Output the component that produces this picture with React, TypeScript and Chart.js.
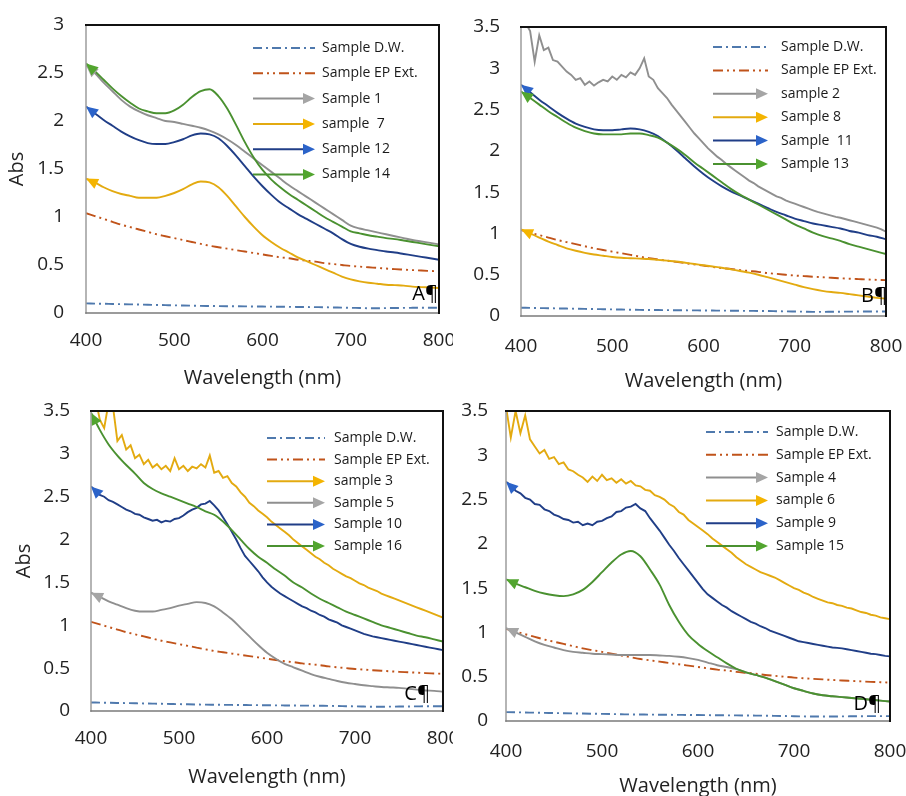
import React, { useEffect, useRef } from "react";
import { Chart, registerables } from "chart.js";
Chart.register(...registerables);

// ---------- wavelength grids (nm) ----------
const WL10 = [
  400, 410, 420, 430, 440, 450, 460, 470, 480, 490,
  500, 510, 520, 530, 540, 550, 560, 570, 580, 590,
  600, 610, 620, 630, 640, 650, 660, 670, 680, 690,
  700, 710, 720, 730, 740, 750, 760, 770, 780, 790,
  800,
];
const WL5 = [
  400, 405, 410, 415, 420, 425, 430, 435, 440, 445,
  450, 455, 460, 465, 470, 475, 480, 485, 490, 495,
  500, 505, 510, 515, 520, 525, 530, 535, 540, 545,
  550, 555, 560, 565, 570, 575, 580, 585, 590, 595,
  600, 605, 610, 615, 620, 625, 630, 635, 640, 645,
  650, 655, 660, 665, 670, 675, 680, 685, 690, 695,
  700, 705, 710, 715, 720, 725, 730, 735, 740, 745,
  750, 755, 760, 765, 770, 775, 780, 785, 790, 795,
  800,
];

// ---------- shared controls ----------
const DW = [
  0.100, 0.098, 0.096, 0.094, 0.092, 0.090, 0.088, 0.086, 0.084, 0.082,
  0.080, 0.078, 0.076, 0.074, 0.073, 0.072, 0.071, 0.070, 0.069, 0.068,
  0.067, 0.066, 0.065, 0.064, 0.063, 0.062, 0.061, 0.060, 0.058, 0.056,
  0.054, 0.052, 0.050, 0.050, 0.051, 0.052, 0.053, 0.054, 0.055, 0.055,
  0.055,
];
const EP = [
  1.04, 1.01, 0.98, 0.95, 0.92, 0.895, 0.87, 0.845, 0.82, 0.80,
  0.78, 0.76, 0.74, 0.72, 0.70, 0.685, 0.67, 0.655, 0.64, 0.625,
  0.61, 0.595, 0.58, 0.57, 0.555, 0.545, 0.535, 0.52, 0.51, 0.50,
  0.49, 0.483, 0.476, 0.47, 0.463, 0.457, 0.452, 0.447, 0.442, 0.438,
  0.434,
];

// ---------- panel A ----------
const S1 = [
  2.58, 2.50, 2.40, 2.31, 2.22, 2.15, 2.10, 2.06, 2.03, 2.00,
  1.99, 1.97, 1.95, 1.93, 1.90, 1.86, 1.81, 1.75, 1.68, 1.61,
  1.54, 1.47, 1.40, 1.33, 1.27, 1.21, 1.15, 1.09, 1.03, 0.97,
  0.91, 0.88, 0.86, 0.84, 0.82, 0.80, 0.78, 0.76, 0.745, 0.73,
  0.715,
];
const S7 = [
  1.40, 1.36, 1.31, 1.27, 1.24, 1.22, 1.20, 1.20, 1.20, 1.22,
  1.25, 1.29, 1.34, 1.37, 1.36, 1.31, 1.22, 1.11, 1.00, 0.90,
  0.81, 0.74, 0.68, 0.63, 0.58, 0.54, 0.50, 0.46, 0.42, 0.38,
  0.35, 0.33, 0.315, 0.305, 0.295, 0.29, 0.285, 0.275, 0.27, 0.265,
  0.26,
];
const S12 = [
  2.15, 2.08, 2.01, 1.95, 1.89, 1.84, 1.80, 1.77, 1.76, 1.76,
  1.78, 1.81, 1.85, 1.87, 1.86, 1.82, 1.74, 1.64, 1.53, 1.42,
  1.32, 1.23, 1.15, 1.09, 1.03, 0.98, 0.93, 0.88, 0.83, 0.77,
  0.72, 0.69, 0.67, 0.655, 0.64, 0.63, 0.615, 0.60, 0.585, 0.57,
  0.555,
];
const S14 = [
  2.60, 2.52, 2.43, 2.34, 2.26, 2.19, 2.13, 2.10, 2.08, 2.08,
  2.11, 2.17, 2.25, 2.31, 2.33, 2.26, 2.13, 1.96, 1.78, 1.62,
  1.49, 1.39, 1.31, 1.24, 1.18, 1.12, 1.06, 1.00, 0.95, 0.90,
  0.85, 0.83, 0.81, 0.795, 0.78, 0.77, 0.755, 0.74, 0.725, 0.71,
  0.695,
];

// ---------- panel B ----------
const S2 = [
  3.65, 3.55, 3.45, 3.08, 3.40, 3.22, 3.25, 3.10, 3.08, 3.02,
  2.96, 2.92, 2.86, 2.88, 2.80, 2.84, 2.79, 2.83, 2.86, 2.84,
  2.90, 2.86, 2.92, 2.89, 2.95, 2.92, 3.00, 3.12, 2.90, 2.86,
  2.76, 2.70, 2.64, 2.56, 2.49, 2.42, 2.35, 2.28, 2.21, 2.15,
  2.09, 2.03, 1.98, 1.93, 1.89, 1.84, 1.80, 1.76, 1.72, 1.68,
  1.64, 1.61, 1.57, 1.54, 1.51, 1.48, 1.45, 1.43, 1.40, 1.38,
  1.36, 1.34, 1.32, 1.30, 1.28, 1.26, 1.245, 1.23, 1.215, 1.20,
  1.19, 1.175, 1.16, 1.145, 1.13, 1.115, 1.10, 1.085, 1.07, 1.05,
  1.02,
];
const S8 = [
  1.05, 1.00, 0.95, 0.90, 0.86, 0.82, 0.79, 0.765, 0.745, 0.73,
  0.715, 0.705, 0.70, 0.695, 0.69, 0.68, 0.67, 0.66, 0.645, 0.63,
  0.615, 0.60, 0.585, 0.565, 0.545, 0.525, 0.50, 0.47, 0.44, 0.41,
  0.38, 0.35, 0.325, 0.305, 0.29, 0.28, 0.265, 0.25, 0.235, 0.22,
  0.21,
];
const S11 = [
  2.80, 2.71, 2.62, 2.54, 2.46, 2.39, 2.33, 2.29, 2.26, 2.25,
  2.25, 2.26, 2.27, 2.26, 2.23, 2.18, 2.10, 2.01, 1.91, 1.81,
  1.72, 1.64, 1.57, 1.51, 1.46, 1.41, 1.36, 1.31, 1.26, 1.22,
  1.18, 1.15, 1.12, 1.10, 1.08, 1.06, 1.03, 1.01, 0.98, 0.96,
  0.93,
];
const S13 = [
  2.72, 2.64, 2.56, 2.48, 2.41, 2.34, 2.28, 2.24, 2.21, 2.20,
  2.20, 2.20, 2.21, 2.21, 2.19, 2.16, 2.10, 2.03, 1.95, 1.86,
  1.78, 1.70, 1.62, 1.54, 1.47, 1.41, 1.35, 1.29, 1.23, 1.17,
  1.11, 1.06, 1.01, 0.97, 0.94, 0.91, 0.87, 0.84, 0.81, 0.78,
  0.75,
];

// ---------- panel C ----------
const S3 = [
  3.70, 3.65, 3.40, 3.30, 3.60, 3.55, 3.15, 3.22, 3.05, 3.10,
  2.95, 2.99, 2.88, 2.93, 2.84, 2.88, 2.82, 2.86, 2.80, 2.95,
  2.82, 2.86, 2.80, 2.85, 2.83, 2.88, 2.84, 2.98, 2.78, 2.80,
  2.72, 2.74, 2.66, 2.62, 2.55, 2.50, 2.43, 2.39, 2.34, 2.30,
  2.26, 2.21, 2.17, 2.13, 2.09, 2.05, 2.00, 1.96, 1.92, 1.88,
  1.84, 1.80, 1.77, 1.73, 1.70, 1.66, 1.63, 1.60, 1.57, 1.55,
  1.52, 1.49, 1.47, 1.44, 1.42, 1.40, 1.37, 1.35, 1.33, 1.31,
  1.29, 1.27, 1.25, 1.23, 1.21, 1.19, 1.17, 1.15, 1.13, 1.11,
  1.09,
];
const S5 = [
  1.38, 1.33, 1.28, 1.24, 1.20, 1.17, 1.16, 1.16, 1.18, 1.20,
  1.23, 1.25, 1.27, 1.26, 1.22, 1.15, 1.07, 0.97, 0.87, 0.77,
  0.68, 0.61, 0.55, 0.51, 0.47, 0.43, 0.40, 0.375, 0.35, 0.33,
  0.315, 0.30, 0.29, 0.28, 0.275, 0.27, 0.26, 0.25, 0.24, 0.235,
  0.225,
];
const S10 = [
  2.62, 2.57, 2.52, 2.50, 2.46, 2.44, 2.41, 2.38, 2.35, 2.33,
  2.30, 2.29, 2.26, 2.24, 2.22, 2.23, 2.20, 2.22, 2.21, 2.24,
  2.25, 2.28, 2.32, 2.35, 2.37, 2.41, 2.42, 2.45, 2.40, 2.34,
  2.26, 2.18, 2.09, 2.00, 1.90, 1.81, 1.75, 1.69, 1.63, 1.56,
  1.50, 1.45, 1.41, 1.37, 1.34, 1.31, 1.28, 1.25, 1.22, 1.20,
  1.17, 1.15, 1.12, 1.10, 1.07, 1.05, 1.03, 1.00, 0.98, 0.96,
  0.94, 0.92, 0.90, 0.885, 0.87, 0.86, 0.85, 0.84, 0.83, 0.82,
  0.81, 0.80, 0.79, 0.78, 0.77, 0.76, 0.75, 0.74, 0.73, 0.72,
  0.71,
];
const S16 = [
  3.48, 3.28, 3.11, 2.98, 2.87, 2.77, 2.66, 2.59, 2.54, 2.50,
  2.46, 2.42, 2.38, 2.33, 2.29, 2.21, 2.11, 2.00, 1.89, 1.80,
  1.73, 1.65, 1.58, 1.50, 1.44, 1.37, 1.31, 1.26, 1.21, 1.16,
  1.12, 1.08, 1.04, 1.00, 0.97, 0.94, 0.91, 0.88, 0.86, 0.835,
  0.81,
];

// ---------- panel D ----------
const S4 = [
  1.05, 1.00, 0.95, 0.90, 0.86, 0.83, 0.80, 0.78, 0.77, 0.76,
  0.755, 0.75, 0.745, 0.745, 0.745, 0.745, 0.74, 0.735, 0.725, 0.71,
  0.69, 0.66, 0.63, 0.61, 0.585, 0.55, 0.52, 0.49, 0.45, 0.41,
  0.37, 0.34, 0.31, 0.29, 0.28, 0.27, 0.26, 0.25, 0.24, 0.23,
  0.22,
];
const S6 = [
  3.55, 3.20, 3.50, 3.25, 3.45, 3.18, 3.10, 3.02, 3.06, 2.96,
  2.98, 2.90, 2.92, 2.84, 2.82, 2.78, 2.75, 2.70, 2.76, 2.71,
  2.78, 2.72, 2.74, 2.69, 2.73, 2.68, 2.71, 2.66, 2.65, 2.61,
  2.60, 2.55, 2.53, 2.50, 2.45, 2.42, 2.36, 2.33, 2.27, 2.23,
  2.19, 2.15, 2.11, 2.06, 2.02, 1.98, 1.94, 1.90, 1.85, 1.81,
  1.77, 1.74, 1.71, 1.68, 1.66, 1.64, 1.62, 1.59, 1.56, 1.53,
  1.50, 1.48, 1.45, 1.43, 1.40, 1.38, 1.36, 1.34, 1.33, 1.31,
  1.30, 1.28, 1.27, 1.25, 1.23, 1.22, 1.20, 1.19, 1.17, 1.16,
  1.15,
];
const S9 = [
  2.70, 2.66, 2.60, 2.57, 2.52, 2.50, 2.45, 2.44, 2.39, 2.37,
  2.33, 2.31, 2.28, 2.27, 2.24, 2.25, 2.21, 2.23, 2.21, 2.25,
  2.26, 2.29, 2.31, 2.36, 2.37, 2.41, 2.42, 2.45, 2.40, 2.37,
  2.29, 2.22, 2.15, 2.07, 1.99, 1.92, 1.84, 1.77, 1.70, 1.63,
  1.56, 1.49, 1.43, 1.39, 1.35, 1.31, 1.28, 1.24, 1.21, 1.18,
  1.15, 1.12, 1.10, 1.07, 1.05, 1.02, 1.00, 0.98, 0.96, 0.94,
  0.92, 0.90, 0.89, 0.88, 0.87, 0.86, 0.85, 0.84, 0.83, 0.825,
  0.82, 0.81, 0.80, 0.79, 0.78, 0.77, 0.76, 0.755, 0.745, 0.735,
  0.73,
];
const S15 = [
  1.60, 1.55, 1.51, 1.47, 1.44, 1.42, 1.41, 1.43, 1.48, 1.57,
  1.68, 1.79, 1.88, 1.92, 1.86, 1.71, 1.54, 1.31, 1.12, 0.97,
  0.87, 0.79, 0.72, 0.65, 0.59, 0.55, 0.52, 0.49, 0.45, 0.41,
  0.37, 0.34, 0.31, 0.29, 0.28, 0.27, 0.26, 0.25, 0.24, 0.23,
  0.22,
];

const X_TICKS_MIN = 400;
const X_TICKS_MAX = 800;

// ---------- styles ----------
type Kind = "dw" | "ep" | "gray" | "yellow" | "blue" | "green";
const STYLE: Record<Kind, { line: string; head: string; dash: number[] }> = {
  dw: { line: "#4f79ad", head: "#4f79ad", dash: [9, 4, 2, 4] },
  ep: { line: "#c0531a", head: "#c0531a", dash: [10, 4, 2, 4, 2, 4] },
  gray: { line: "#8f8f8f", head: "#a5a5a5", dash: [] },
  yellow: { line: "#e3aa10", head: "#f4b400", dash: [] },
  blue: { line: "#203e87", head: "#2b63c9", dash: [] },
  green: { line: "#4a9130", head: "#52a52f", dash: [] },
};

interface SeriesDef { label: string; kind: Kind; xs: number[]; ys: number[]; noisy?: boolean }
interface PanelDef {
  key: string; left: number; top: number; w: number; h: number;
  area: { l: number; r: number; t: number; b: number };
  yMax: number; yTitle: boolean; yTitlePad: number; yTickPad: number;
  xTickPad: number; xTitlePad: number;
  legend: { x0: number; x1: number; tx: number; y0: number; dy: number };
  letter: { text: string; x: number; y: number };
  series: SeriesDef[];
}

const PANELS: PanelDef[] = [
  {
    key: "A", left: 0, top: 0, w: 453, h: 398,
    area: { l: 86, r: 439, t: 25, b: 313 },
    yMax: 3, yTitle: true, yTitlePad: 5, yTickPad: 22, xTickPad: 16, xTitlePad: 8,
    legend: { x0: 253, x1: 315, tx: 322, y0: 48, dy: 25.3 },
    letter: { text: "A¶", x: 438, y: 300 },
    series: [
      { label: "Sample D.W.", kind: "dw", xs: WL10, ys: DW },
      { label: "Sample EP Ext.", kind: "ep", xs: WL10, ys: EP },
      { label: "Sample 1", kind: "gray", xs: WL10, ys: S1 },
      { label: "sample  7", kind: "yellow", xs: WL10, ys: S7 },
      { label: "Sample 12", kind: "blue", xs: WL10, ys: S12 },
      { label: "Sample 14", kind: "green", xs: WL10, ys: S14 },
    ],
  },
  {
    key: "B", left: 453, top: 0, w: 453, h: 398,
    area: { l: 68, r: 433, t: 27, b: 316 },
    yMax: 3.5, yTitle: false, yTitlePad: 0, yTickPad: 21, xTickPad: 19, xTitlePad: 5,
    legend: { x0: 260, x1: 315, tx: 328, y0: 47, dy: 23.4 },
    letter: { text: "B¶", x: 434, y: 302 },
    series: [
      { label: "Sample D.W.", kind: "dw", xs: WL10, ys: DW },
      { label: "Sample EP Ext.", kind: "ep", xs: WL10, ys: EP },
      { label: "sample 2", kind: "gray", xs: WL5, ys: S2, noisy: true },
      { label: "Sample 8", kind: "yellow", xs: WL10, ys: S8 },
      { label: "Sample  11", kind: "blue", xs: WL10, ys: S11 },
      { label: "Sample 13", kind: "green", xs: WL10, ys: S13 },
    ],
  },
  {
    key: "C", left: 0, top: 398, w: 453, h: 398,
    area: { l: 91, r: 443, t: 13, b: 313 },
    yMax: 3.5, yTitle: true, yTitlePad: 12, yTickPad: 21, xTickPad: 16, xTitlePad: 7,
    legend: { x0: 267, x1: 325, tx: 334, y0: 40, dy: 21.6 },
    letter: { text: "C¶", x: 430, y: 302 },
    series: [
      { label: "Sample D.W.", kind: "dw", xs: WL10, ys: DW },
      { label: "Sample EP Ext.", kind: "ep", xs: WL10, ys: EP },
      { label: "sample 3", kind: "yellow", xs: WL5, ys: S3, noisy: true },
      { label: "Sample 5", kind: "gray", xs: WL10, ys: S5 },
      { label: "Sample 10", kind: "blue", xs: WL5, ys: S10, noisy: true },
      { label: "Sample 16", kind: "green", xs: WL10, ys: S16 },
    ],
  },
  {
    key: "D", left: 453, top: 398, w: 453, h: 410,
    area: { l: 53, r: 437, t: 13, b: 323 },
    yMax: 3.5, yTitle: false, yTitlePad: 0, yTickPad: 18, xTickPad: 19, xTitlePad: 10,
    legend: { x0: 253, x1: 315, tx: 323, y0: 34, dy: 22.8 },
    letter: { text: "D¶", x: 428, y: 312 },
    series: [
      { label: "Sample D.W.", kind: "dw", xs: WL10, ys: DW },
      { label: "Sample EP Ext.", kind: "ep", xs: WL10, ys: EP },
      { label: "Sample 4", kind: "gray", xs: WL10, ys: S4 },
      { label: "sample 6", kind: "yellow", xs: WL5, ys: S6, noisy: true },
      { label: "Sample 9", kind: "blue", xs: WL5, ys: S9, noisy: true },
      { label: "Sample 15", kind: "green", xs: WL10, ys: S15 },
    ],
  },
];

const FONT = "'Open Sans', 'DejaVu Sans', sans-serif";

function drawHead(ctx: CanvasRenderingContext2D, x: number, y: number, dx: number, dy: number, color: string) {
  const L = 12, W = 11;
  const bx = x - dx * L, by = y - dy * L;
  const nx = -dy, ny = dx;
  ctx.beginPath();
  ctx.moveTo(x, y);
  ctx.lineTo(bx + nx * W / 2, by + ny * W / 2);
  ctx.lineTo(bx - nx * W / 2, by - ny * W / 2);
  ctx.closePath();
  ctx.fillStyle = color;
  ctx.fill();
}

function Panel({ p }: { p: PanelDef }) {
  const ref = useRef<HTMLCanvasElement>(null);
  useEffect(() => {
    const canvas = ref.current;
    if (!canvas) return;
    const datasets = p.series.map((s, i) => ({
      label: s.label,
      data: s.xs.map((x, j) => ({ x, y: s.ys[j] })),
      borderColor: STYLE[s.kind].line,
      backgroundColor: STYLE[s.kind].line,
      borderWidth: 1.9,
      borderDash: STYLE[s.kind].dash,
      pointRadius: 0,
      pointHoverRadius: 0,
      tension: s.noisy ? 0 : 0.4,
      cubicInterpolationMode: s.noisy ? "default" : "monotone",
      fill: false,
      order: -i,
    }));

    const decor = {
      id: "decor" + p.key,
      afterDatasetsDraw(chart: any) {
        const ctx: CanvasRenderingContext2D = chart.ctx;
        const a = chart.chartArea;
        // arrowheads at the start of each sample curve
        ctx.save();
        ctx.beginPath();
        ctx.rect(a.left - 2, a.top, a.right - a.left + 4, a.bottom - a.top);
        ctx.clip();
        p.series.forEach((s, i) => {
          if (s.kind === "dw" || s.kind === "ep") return;
          const pts = chart.getDatasetMeta(i).data;
          const p0 = pts[0];
          if (!p0 || p0.y < a.top - 2) return;
          let k = 1;
          while (k < pts.length - 1 && Math.hypot(pts[k].x - p0.x, pts[k].y - p0.y) < 10) k++;
          const pk = pts[k];
          let dx = p0.x - pk.x, dy = p0.y - pk.y;
          const len = Math.hypot(dx, dy) || 1;
          dx /= len; dy /= len;
          drawHead(ctx, p0.x, p0.y, dx, dy, STYLE[s.kind].head);
        });
        ctx.restore();

        // plot-area frame
        ctx.save();
        ctx.lineCap = "square";
        ctx.strokeStyle = "#9c9c9c";
        ctx.lineWidth = 1.5;
        ctx.beginPath();
        ctx.moveTo(a.left, a.top);
        ctx.lineTo(a.left, a.bottom);
        ctx.stroke();
        ctx.strokeStyle = "#7a7a7a";
        ctx.beginPath();
        ctx.moveTo(a.left, a.bottom);
        ctx.lineTo(a.right, a.bottom);
        ctx.stroke();
        ctx.strokeStyle = "#111";
        ctx.lineWidth = 2;
        ctx.beginPath();
        ctx.moveTo(a.left, a.top);
        ctx.lineTo(a.right, a.top);
        ctx.lineTo(a.right, a.bottom);
        ctx.stroke();
        ctx.restore();

        // legend
        const L = p.legend;
        ctx.save();
        p.series.forEach((s, i) => {
          const y = L.y0 + i * L.dy;
          const st = STYLE[s.kind];
          const isArrow = st.dash.length === 0;
          ctx.strokeStyle = st.line;
          ctx.lineWidth = 2;
          ctx.setLineDash(st.dash);
          ctx.beginPath();
          ctx.moveTo(L.x0, y);
          ctx.lineTo(isArrow ? L.x1 - 8 : L.x1, y);
          ctx.stroke();
          ctx.setLineDash([]);
          if (isArrow) drawHead(ctx, L.x1, y, 1, 0, st.head);
          ctx.fillStyle = "#1a1a1a";
          ctx.font = `14px ${FONT}`;
          ctx.textBaseline = "middle";
          ctx.textAlign = "left";
          ctx.fillText(s.label, L.tx, y);
        });
        // panel letter
        ctx.fillStyle = "#000";
        ctx.font = `20px ${FONT}`;
        ctx.textBaseline = "alphabetic";
        ctx.textAlign = "right";
        ctx.fillText(p.letter.text, p.letter.x, p.letter.y);
        ctx.restore();
      },
    };

    const tickFont = { family: FONT, size: 19 };
    const titleFont = { family: FONT, size: 20 };

    const chart = new Chart(canvas, {
      type: "line",
      data: { datasets: datasets as any },
      options: {
        animation: false,
        responsive: false,
        maintainAspectRatio: false,
        events: [],
        layout: { padding: { left: 0, top: p.area.t, right: p.w - p.area.r, bottom: 0 } },
        plugins: { legend: { display: false }, tooltip: { enabled: false } },
        scales: {
          x: {
            type: "linear",
            min: X_TICKS_MIN,
            max: X_TICKS_MAX,
            grid: { display: false, drawTicks: false },
            border: { display: false },
            ticks: { stepSize: 100, padding: p.xTickPad, font: tickFont, color: "#222", maxRotation: 0, autoSkip: false },
            title: { display: true, text: "Wavelength (nm)", font: titleFont, color: "#222", padding: { top: 0, bottom: p.xTitlePad } },
            afterFit: (s: any) => { s.height = p.h - p.area.b; s.paddingLeft = 0; s.paddingRight = 0; },
          },
          y: {
            type: "linear",
            min: 0,
            max: p.yMax,
            grid: { display: false, drawTicks: false },
            border: { display: false },
            ticks: {
              stepSize: 0.5, padding: p.yTickPad, font: tickFont, color: "#222",
              callback: (v: any) => String(Math.round(Number(v) * 10) / 10),
            },
            title: { display: p.yTitle, text: "Abs", font: titleFont, color: "#222", padding: { top: p.yTitlePad, bottom: 0 } },
            afterFit: (s: any) => { s.width = p.area.l; s.paddingTop = 0; s.paddingBottom = 0; },
          },
        },
      } as any,
      plugins: [decor],
    });
    return () => chart.destroy();
  }, [p]);

  return (
    <canvas
      ref={ref}
      width={p.w}
      height={p.h}
      style={{ position: "absolute", left: p.left, top: p.top, width: p.w, height: p.h }}
    />
  );
}

export default function App() {
  return (
    <div style={{ position: "absolute", left: 0, top: 0, width: 906, height: 796, overflow: "hidden", background: "#fff" }}>
      {PANELS.map((p) => (
        <Panel key={p.key} p={p} />
      ))}
    </div>
  );
}
